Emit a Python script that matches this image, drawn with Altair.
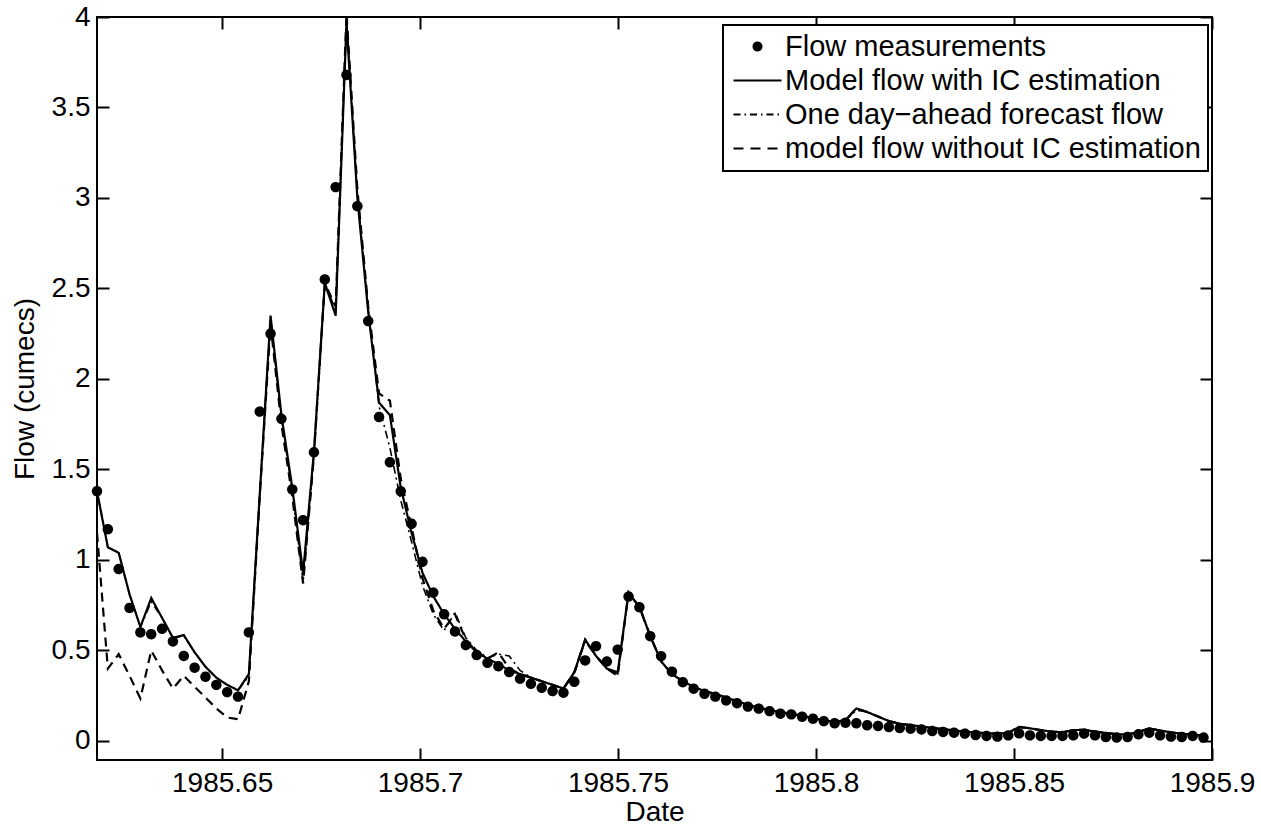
import altair as alt
import pandas as pd

# ---------------- data ----------------
START = 1985.6184          # first daily sample (left edge of the axis)
END = 1985.9
DAY = 1.0 / 365.0

flow_obs = [1.38, 1.17, 0.95, 0.735, 0.60, 0.59, 0.62, 0.55, 0.47, 0.405,
            0.355, 0.31, 0.27, 0.245, 0.60, 1.82, 2.25, 1.78, 1.39, 1.22,
            1.595, 2.55, 3.06, 3.68, 2.955, 2.32, 1.79, 1.54, 1.38, 1.20,
            0.99, 0.82, 0.70, 0.605, 0.53, 0.475, 0.432, 0.413, 0.381, 0.344,
            0.316, 0.294, 0.276, 0.267, 0.327, 0.445, 0.524, 0.439, 0.505, 0.798,
            0.739, 0.579, 0.469, 0.383, 0.325, 0.289, 0.261, 0.245, 0.224, 0.209,
            0.190, 0.179, 0.165, 0.151, 0.147, 0.134, 0.123, 0.110, 0.098, 0.101,
            0.098, 0.087, 0.083, 0.077, 0.072, 0.068, 0.064, 0.055, 0.050, 0.046,
            0.041, 0.033, 0.028, 0.024, 0.031, 0.042, 0.031, 0.028, 0.028, 0.028,
            0.031, 0.041, 0.031, 0.022, 0.019, 0.022, 0.037, 0.046, 0.031, 0.024,
            0.022, 0.028, 0.019]

model_ic = [1.38, 1.07, 1.04, 0.81, 0.63, 0.79, 0.68, 0.57, 0.585, 0.49,
            0.41, 0.35, 0.31, 0.28, 0.37, 1.36, 2.35, 1.80, 1.40, 0.93,
            1.60, 2.53, 2.35, 3.97, 3.00, 2.37, 1.87, 1.80, 1.40, 1.15,
            0.93, 0.80, 0.70, 0.62, 0.55, 0.49, 0.455, 0.425, 0.39, 0.37,
            0.35, 0.33, 0.31, 0.29, 0.38, 0.56, 0.47, 0.40, 0.38, 0.82,
            0.74, 0.58, 0.44, 0.37, 0.33, 0.30, 0.275, 0.26, 0.24, 0.22,
            0.20, 0.185, 0.17, 0.16, 0.15, 0.14, 0.125, 0.115, 0.105, 0.115,
            0.18, 0.16, 0.135, 0.11, 0.095, 0.088, 0.080, 0.072, 0.065, 0.058,
            0.052, 0.047, 0.043, 0.040, 0.045, 0.078, 0.070, 0.060, 0.052, 0.048,
            0.060, 0.062, 0.052, 0.044, 0.038, 0.035, 0.050, 0.070, 0.058, 0.048,
            0.040, 0.035, 0.030]

forecast = [1.38, 1.07, 1.04, 0.81, 0.63, 0.77, 0.68, 0.57, 0.58, 0.49,
            0.41, 0.35, 0.31, 0.28, 0.36, 1.36, 2.33, 1.78, 1.38, 0.88,
            1.58, 2.53, 2.38, 3.99, 3.02, 2.39, 1.85, 1.62, 1.33, 1.10,
            0.86, 0.70, 0.61, 0.71, 0.57, 0.50, 0.46, 0.48, 0.47, 0.39,
            0.35, 0.33, 0.31, 0.29, 0.37, 0.55, 0.47, 0.40, 0.37, 0.81,
            0.75, 0.58, 0.44, 0.37, 0.33, 0.30, 0.275, 0.26, 0.24, 0.22,
            0.20, 0.185, 0.17, 0.16, 0.15, 0.14, 0.125, 0.115, 0.105, 0.115,
            0.17, 0.16, 0.135, 0.11, 0.095, 0.088, 0.080, 0.072, 0.065, 0.058,
            0.052, 0.047, 0.043, 0.040, 0.045, 0.075, 0.070, 0.060, 0.052, 0.048,
            0.058, 0.062, 0.052, 0.044, 0.038, 0.035, 0.050, 0.068, 0.058, 0.048,
            0.040, 0.035, 0.030]

model_noic = [1.15, 0.40, 0.48, 0.36, 0.235, 0.50, 0.39, 0.29, 0.36, 0.30,
              0.24, 0.18, 0.13, 0.12, 0.33, 1.35, 2.30, 1.75, 1.35, 0.87,
              1.58, 2.53, 2.40, 4.02, 3.05, 2.40, 1.92, 1.88, 1.45, 1.18,
              0.90, 0.72, 0.62, 0.70, 0.56, 0.49, 0.455, 0.49, 0.40, 0.37,
              0.35, 0.33, 0.31, 0.29, 0.38, 0.56, 0.47, 0.40, 0.36, 0.82,
              0.74, 0.58, 0.44, 0.37, 0.33, 0.30, 0.275, 0.26, 0.24, 0.22,
              0.20, 0.185, 0.17, 0.16, 0.15, 0.14, 0.125, 0.115, 0.105, 0.115,
              0.18, 0.16, 0.135, 0.11, 0.095, 0.088, 0.080, 0.072, 0.065, 0.058,
              0.052, 0.047, 0.043, 0.040, 0.045, 0.078, 0.070, 0.060, 0.052, 0.048,
              0.060, 0.062, 0.052, 0.044, 0.038, 0.035, 0.050, 0.070, 0.058, 0.048,
              0.040, 0.035, 0.030]

SERIES = ["Flow measurements",
          "Model flow with IC estimation",
          "One day\u2212ahead forecast flow",
          "model flow without IC estimation"]

X_TICKS = [1985.65, 1985.7, 1985.75, 1985.8, 1985.85, 1985.9]
Y_TICKS = [0, 0.5, 1, 1.5, 2, 2.5, 3, 3.5, 4]
Y_MIN, Y_MAX = -0.105, 4.0

# ---------------- styling ----------------
W, H = 1115, 743
FONT = "Liberation Sans"
FS = 28
TICK_PX = 12
LINE_PATH = "M-6,0H6"

rows = []
for name, vals in zip(SERIES, [flow_obs, model_ic, forecast, model_noic]):
    for i, v in enumerate(vals):
        rows.append({"date": START + i * DAY, "value": v, "series": name})
df = pd.DataFrame(rows)

x_scale = alt.Scale(domain=[START, END], nice=False, zero=False)
y_scale = alt.Scale(domain=[Y_MIN, Y_MAX], nice=False, zero=False)

# main axes: labels + inward ticks (axis pulled inside by the tick length)
tick_style = dict(ticks=True, tickSize=TICK_PX, tickWidth=2, tickColor="black",
                  offset=-TICK_PX, domain=False, grid=False)
x_axis_main = alt.Axis(orient="bottom", values=X_TICKS, format=".6~g", title="Date",
                       labelPadding=9, titlePadding=1, **tick_style)
y_axis_main = alt.Axis(orient="left", values=Y_TICKS, format="~g", title="Flow (cumecs)",
                       labelPadding=7, titlePadding=12, **tick_style)
# mirrored inward ticks on the top and right edges (box style)
x_axis_top = alt.Axis(orient="top", values=X_TICKS, labels=False, title=None, **tick_style)
y_axis_right = alt.Axis(orient="right", values=Y_TICKS, labels=False, title=None, **tick_style)

leg = alt.Legend(title=None)
dom = SERIES

base = alt.Chart(df)

points = base.transform_filter(
    alt.datum.series == SERIES[0]
).mark_point(filled=True, size=80, strokeWidth=1.5, opacity=1).encode(
    x=alt.X("date:Q", scale=x_scale, axis=x_axis_main),
    y=alt.Y("value:Q", scale=y_scale, axis=y_axis_main),
    shape=alt.Shape("series:N", legend=leg,
                    scale=alt.Scale(domain=dom, range=["circle", LINE_PATH, LINE_PATH, LINE_PATH])),
    fill=alt.Fill("series:N", legend=leg,
                  scale=alt.Scale(domain=dom, range=["black", "transparent", "transparent", "transparent"])),
    stroke=alt.Stroke("series:N", legend=leg,
                      scale=alt.Scale(domain=dom, range=["black", "black", "black", "black"])),
    strokeDash=alt.StrokeDash("series:N", legend=leg,
                              scale=alt.Scale(domain=dom, range=[[1, 0], [1, 0], [7, 4, 1.5, 4], [10, 7]])),
)

frame_ticks = base.transform_filter(
    alt.datum.series == SERIES[0]
).mark_point(opacity=0).encode(
    x=alt.X("date:Q", scale=x_scale, axis=x_axis_top),
    y=alt.Y("value:Q", scale=y_scale, axis=y_axis_right),
)


def line_layer(name, dash, width):
    return base.transform_filter(
        alt.datum.series == name
    ).mark_line(color="black", strokeWidth=width, strokeDash=dash, clip=True).encode(
        x=alt.X("date:Q", scale=x_scale, axis=None),
        y=alt.Y("value:Q", scale=y_scale, axis=None),
        order="date:Q")


solid = line_layer(SERIES[1], [1, 0], 2.2)
dashdot = line_layer(SERIES[2], [8, 4, 2, 4], 1.6)
dashed = line_layer(SERIES[3], [9, 6], 2.2)

chart = alt.layer(
    dashed, dashdot, solid, points, frame_ticks
).resolve_axis(
    x="independent", y="independent"
).properties(
    width=W, height=H,
    autosize=alt.AutoSizeParams(type="none"),
    padding={"left": 97, "top": 17, "right": 49, "bottom": 65},
    background="white",
).configure_view(
    stroke="black", strokeWidth=2
).configure_axis(
    grid=False, domain=False,
    labelFont=FONT, labelFontSize=FS, labelColor="black",
    titleFont=FONT, titleFontSize=FS, titleColor="black", titleFontWeight="normal",
    labelFlush=False, labelOverlap=False,
).configure_legend(
    orient="none", legendX=626, legendY=8,
    strokeColor="black", strokeWidth=2, fillColor="white",
    padding=7, rowPadding=4,
    labelFont=FONT, labelFontSize=29, labelColor="black", labelLimit=0,
    symbolSize=64, symbolStrokeWidth=2, symbolOffset=13, labelOffset=13,
)

chart.save("out.html", embed_options={"renderer": "svg", "actions": False})
